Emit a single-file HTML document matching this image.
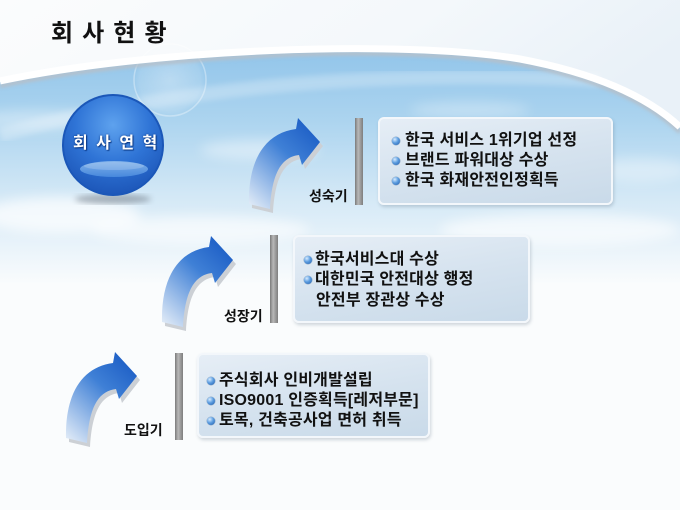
<!DOCTYPE html>
<html>
<head>
<meta charset="utf-8">
<style>
html,body{margin:0;padding:0;}
body{width:680px;height:510px;position:relative;overflow:hidden;background:#fafcfd;font-family:"Liberation Sans","Noto Sans CJK KR",sans-serif;}
.abs{position:absolute;}
.title{left:51px;top:19px;font-size:24px;font-weight:bold;color:#111;letter-spacing:1.2px;line-height:30px;white-space:nowrap;}
.ctext{left:73px;top:133px;font-size:16px;font-weight:bold;color:#fff;letter-spacing:2px;line-height:22px;white-space:nowrap;text-shadow:0 0 2px #0d3a86,1px 1px 1px #0d3a86;}
.box{position:absolute;border-radius:6px;background:linear-gradient(170deg,#e6eef6 0%,#d6e3ef 50%,#c9dae9 100%);border:2px solid #f3f7fb;box-shadow:1px 2px 3px rgba(80,100,120,0.25);box-sizing:border-box;}
.bar{position:absolute;width:8px;background:linear-gradient(90deg,#7a7a7a 0%,#b8b8b8 40%,#9a9a9a 70%,#7e7e7e 100%);}
.ln{position:absolute;font-size:16px;font-weight:bold;color:#111;line-height:20px;height:20px;letter-spacing:0.2px;white-space:nowrap;}
.bl{position:absolute;width:8px;height:8px;border-radius:50%;background:radial-gradient(circle at 35% 30%,#d8ecff 0%,#5c9de0 45%,#1f5aa8 100%);box-shadow:0 0 0 0.5px #8aa6c4;}
.lab{position:absolute;font-size:14px;font-weight:bold;color:#111;line-height:16px;letter-spacing:0px;white-space:nowrap;}
</style>
</head>
<body>
<svg class="abs" style="left:0;top:0" width="680" height="510" viewBox="0 0 680 510">
<defs>
<linearGradient id="topg" x1="0" y1="0" x2="1" y2="0.3">
<stop offset="0" stop-color="#fbfcfd"/>
<stop offset="0.6" stop-color="#f4f8fb"/>
<stop offset="1" stop-color="#e9f1f8"/>
</linearGradient>
<linearGradient id="skyg" gradientUnits="userSpaceOnUse" x1="0" y1="50" x2="0" y2="285">
<stop offset="0" stop-color="#92c5ea"/>
<stop offset="0.3" stop-color="#acd4ef"/>
<stop offset="0.62" stop-color="#d3e8f6"/>
<stop offset="1" stop-color="#fafcfd"/>
</linearGradient>
<radialGradient id="sun" cx="0.5" cy="0.5" r="0.5">
<stop offset="0" stop-color="#ffffff" stop-opacity="0.3"/>
<stop offset="0.85" stop-color="#ffffff" stop-opacity="0.12"/>
<stop offset="1" stop-color="#ffffff" stop-opacity="0"/>
</radialGradient>
<filter id="blur6"><feGaussianBlur stdDeviation="6"/></filter>
<filter id="blur3"><feGaussianBlur stdDeviation="3"/></filter>
<filter id="blur2"><feGaussianBlur stdDeviation="1.5"/></filter>
<radialGradient id="ball" cx="0.5" cy="0.3" r="0.75">
<stop offset="0" stop-color="#5ea2ee"/>
<stop offset="0.5" stop-color="#2f74d6"/>
<stop offset="1" stop-color="#1a52b4"/>
</radialGradient>
<linearGradient id="hl" x1="0" y1="0" x2="0" y2="1">
<stop offset="0" stop-color="#8fbdee"/>
<stop offset="1" stop-color="#4d8ee0"/>
</linearGradient>
<linearGradient id="arr" x1="0.85" y1="0" x2="0.1" y2="1">
<stop offset="0" stop-color="#1a5bc4"/>
<stop offset="0.4" stop-color="#3f80d6"/>
<stop offset="1" stop-color="#dce8f6"/>
</linearGradient>
</defs>
<rect width="680" height="510" fill="#fafcfd"/>
<rect width="680" height="140" fill="url(#topg)"/>
<path d="M0,82 C150,50 400,40 520,60 C600,75 650,100 680,128 L680,290 L0,290 Z" fill="url(#skyg)"/>
<!-- clouds -->
<g filter="url(#blur6)" fill="#ffffff">
<ellipse cx="60" cy="215" rx="80" ry="18" opacity="0.7"/>
<ellipse cx="200" cy="230" rx="110" ry="14" opacity="0.6"/>
<ellipse cx="40" cy="120" rx="70" ry="10" opacity="0.35"/>
<ellipse cx="260" cy="150" rx="60" ry="10" opacity="0.4"/>
<ellipse cx="560" cy="230" rx="120" ry="16" opacity="0.6"/>
<ellipse cx="640" cy="170" rx="50" ry="12" opacity="0.35"/>
<ellipse cx="470" cy="110" rx="60" ry="8" opacity="0.3"/>
</g>
<path d="M0,135 C180,85 380,70 600,80" stroke="#ffffff" stroke-width="14" fill="none" opacity="0.25" filter="url(#blur3)"/>
<circle cx="170" cy="80" r="36" fill="url(#sun)" stroke="#ffffff" stroke-opacity="0.35" stroke-width="1.5"/>
<!-- swoosh -->
<path d="M0,86 C150,54 400,44 520,64 C600,79 650,104 680,132" stroke="#b5c0ca" stroke-width="4" fill="none" filter="url(#blur2)"/>
<path d="M0,81 C150,49 400,39 520,59 C600,74 650,99 680,127" stroke="#ffffff" stroke-width="7" fill="none"/>
<!-- circle -->
<ellipse cx="113" cy="199" rx="38" ry="5" fill="#6a7480" opacity="0.5" filter="url(#blur3)"/>
<circle cx="113" cy="145" r="50" fill="url(#ball)" stroke="#1b57b8" stroke-width="2"/>
<ellipse cx="114" cy="169" rx="34" ry="8" fill="url(#hl)" opacity="0.85"/>
<ellipse cx="114" cy="166" rx="30" ry="4" fill="#ffffff" opacity="0.18"/>
<!-- arrows -->
<g transform="translate(248,118)">
<path d="M1,86 C0,42 17,15 48,11 L50,0 L72,24 L54,47 L51,37 C34,39 24,54 22,91 Z" fill="#ccd0d5" transform="translate(3,4)"/>
<path d="M1,86 C0,42 17,15 48,11 L50,0 L72,24 L54,47 L51,37 C34,39 24,54 22,91 Z" fill="url(#arr)"/>
</g>
<g transform="translate(161,236)">
<path d="M1,86 C0,42 17,15 48,11 L50,0 L72,24 L54,47 L51,37 C34,39 24,54 22,91 Z" fill="#ccd0d5" transform="translate(3,4)"/>
<path d="M1,86 C0,42 17,15 48,11 L50,0 L72,24 L54,47 L51,37 C34,39 24,54 22,91 Z" fill="url(#arr)"/>
</g>
<g transform="translate(65,352)">
<path d="M1,86 C0,42 17,15 48,11 L50,0 L72,24 L54,47 L51,37 C34,39 24,54 22,91 Z" fill="#ccd0d5" transform="translate(3,4)"/>
<path d="M1,86 C0,42 17,15 48,11 L50,0 L72,24 L54,47 L51,37 C34,39 24,54 22,91 Z" fill="url(#arr)"/>
</g>
</svg>

<div class="abs title">회 사 현 황</div>
<div class="abs ctext">회 사 연 혁</div>

<!-- stage 1 -->
<div class="lab" style="left:309px;top:188px;">성숙기</div>
<div class="bar" style="left:355px;top:118px;height:87px;"></div>
<div class="box" style="left:378px;top:117px;width:235px;height:88px;"></div>
<div class="bl" style="left:392px;top:137px;"></div>
<div class="ln" style="left:405px;top:131px;">한국 서비스 1위기업 선정</div>
<div class="bl" style="left:392px;top:157px;"></div>
<div class="ln" style="left:405px;top:151px;">브랜드 파워대상 수상</div>
<div class="bl" style="left:392px;top:177px;"></div>
<div class="ln" style="left:405px;top:171px;">한국 화재안전인정획득</div>

<!-- stage 2 -->
<div class="lab" style="left:224px;top:308px;">성장기</div>
<div class="bar" style="left:270px;top:235px;height:88px;"></div>
<div class="box" style="left:293px;top:235px;width:237px;height:88px;"></div>
<div class="bl" style="left:304px;top:256px;"></div>
<div class="ln" style="left:315px;top:250px;">한국서비스대 수상</div>
<div class="bl" style="left:304px;top:276px;"></div>
<div class="ln" style="left:315px;top:270px;">대한민국 안전대상 행정</div>
<div class="ln" style="left:316px;top:291px;">안전부 장관상 수상</div>

<!-- stage 3 -->
<div class="lab" style="left:124px;top:422px;">도입기</div>
<div class="bar" style="left:175px;top:353px;height:87px;"></div>
<div class="box" style="left:197px;top:353px;width:233px;height:85px;"></div>
<div class="bl" style="left:207px;top:377px;"></div>
<div class="ln" style="left:219px;top:371px;">주식회사 인비개발설립</div>
<div class="bl" style="left:207px;top:397px;"></div>
<div class="ln" style="left:219px;top:391px;">ISO9001 인증획득[레저부문]</div>
<div class="bl" style="left:207px;top:417px;"></div>
<div class="ln" style="left:219px;top:411px;">토목, 건축공사업 면허 취득</div>
</body>
</html>
